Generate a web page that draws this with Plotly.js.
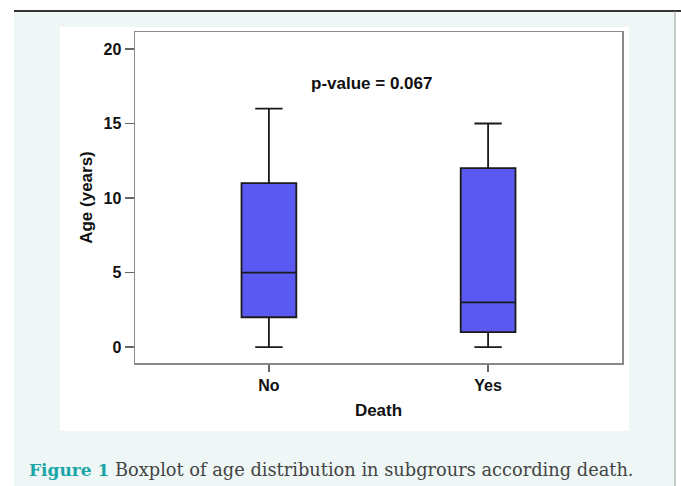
<!DOCTYPE html>
<html>
<head>
<meta charset="utf-8">
<script src="https://cdn.plot.ly/plotly-3.0.1.min.js"></script>
<style>html,body{margin:0;padding:0;background:#fff;}#chart{width:681px;height:486px;}</style>
</head>
<body>
<div id="chart"></div>
<script>
// Data
var categories = ['No', 'Yes'];
var lowerWhisker = [0, 0];
var q1Values = [2, 1];
var medianValues = [5, 3];
var q3Values = [11, 12];
var upperWhisker = [16, 15];
var yTicks = [0, 5, 10, 15, 20];
var pValueText = 'p-value = 0.067';
var captionLabel = 'Figure 1';
var captionText = 'Boxplot of age distribution in subgrours according death.';

// layout helpers (pixel -> paper)
var L = 135, R = 622, T = 32, B = 363, W = 681, H = 486;
function px(x) { return (x - L) / (R - L); }
function py(y) { return (B - y) / (B - T); }

var trace = {
  type: 'box',
  x: categories,
  q1: q1Values,
  median: medianValues,
  q3: q3Values,
  lowerfence: lowerWhisker,
  upperfence: upperWhisker,
  fillcolor: '#5a5af2',
  line: { color: '#1a1a1a', width: 1.8 },
  whiskerwidth: 0.5,
  width: 0.25,
  boxpoints: false,
  hoverinfo: 'skip',
  showlegend: false
};

var fam = 'Liberation Sans, Arial, sans-serif';

var layout = {
  width: W, height: H,
  margin: { l: L, r: W - R, t: T, b: H - B, pad: 0 },
  paper_bgcolor: '#ffffff',
  plot_bgcolor: '#ffffff',
  font: { family: fam, color: '#000' },
  xaxis: {
    type: 'category',
    range: [-0.611, 1.611],
    showline: true, mirror: true, linecolor: '#8a8a8a', linewidth: 1.5,
    ticks: 'outside', ticklen: 7, tickcolor: '#666', tickwidth: 1.3,
    showgrid: false, zeroline: false,
    tickfont: { size: 16, family: fam, weight: 'bold', color: '#111' },
    title: { text: '<b>Death</b>', font: { size: 17, color: '#111' }, standoff: 11 }
  },
  yaxis: {
    range: [-1.07, 21.14],
    tickvals: yTicks,
    showline: true, mirror: true, linecolor: '#8a8a8a', linewidth: 1.5,
    ticks: 'outside', ticklen: 9, tickcolor: '#666', tickwidth: 1.3,
    showgrid: false, zeroline: false,
    tickfont: { size: 16, family: fam, weight: 'bold', color: '#111' },
    title: { text: '<b>Age (years)</b>', font: { size: 17, color: '#111' }, standoff: 6 }
  },
  shapes: [
    { type: 'rect', xref: 'paper', yref: 'paper', layer: 'below',
      x0: px(14), x1: px(675), y0: py(11), y1: py(H + 2),
      fillcolor: '#eef7f6', line: { width: 0 } },
    { type: 'rect', xref: 'paper', yref: 'paper', layer: 'below',
      x0: px(60), x1: px(629), y0: py(27), y1: py(431),
      fillcolor: '#ffffff', line: { width: 0 } },
    { type: 'line', xref: 'paper', yref: 'paper',
      x0: px(14), x1: px(681), y0: py(11), y1: py(11),
      line: { color: '#333', width: 2 } },
    { type: 'line', xref: 'paper', yref: 'paper',
      x0: px(675), x1: px(675), y0: py(11), y1: py(H + 2),
      line: { color: '#9a9a9a', width: 1 } }
  ],
  annotations: [
    { xref: 'paper', yref: 'paper', x: px(371), y: py(72),
      text: '<b>' + pValueText + '</b>', showarrow: false,
      font: { size: 17, family: fam, color: '#111' } },
    { xref: 'paper', yref: 'paper', x: px(27), y: py(469), xanchor: 'left', yanchor: 'middle',
      text: '<span style="color:#1ba5a6;font-size:17px"><b>' + captionLabel + '</b></span> ' + captionText,
      showarrow: false,
      font: { size: 17.8, family: 'DejaVu Serif, serif', color: '#444' } }
  ]
};

Plotly.newPlot('chart', [trace], layout, { staticPlot: true, displayModeBar: false });
</script>
</body>
</html>
